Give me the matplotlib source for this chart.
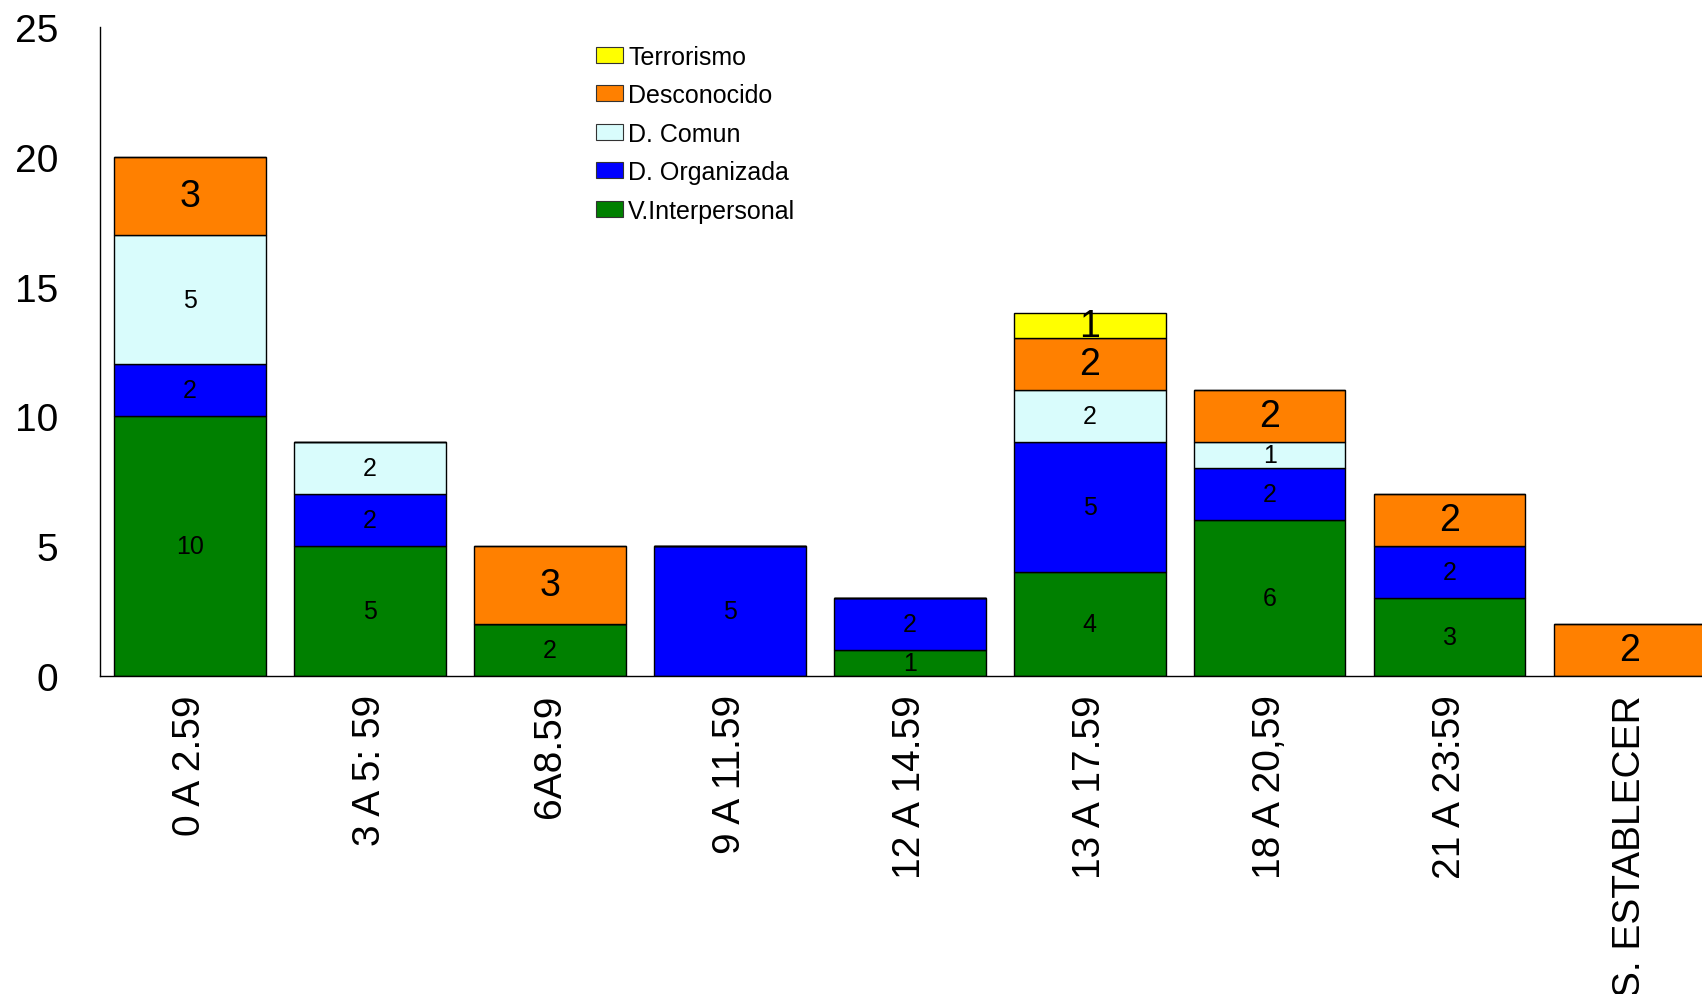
import numpy as np
import matplotlib.pyplot as plt

plt.rcParams['font.family'] = ['Liberation Sans', 'DejaVu Sans']

franjas = ["0 A 2.59", "3 A 5: 59", "6A8.59", "9 A 11.59", "12 A 14.59",
           "13 A 17.59", "18 A 20,59", "21 A 23:59", "S. ESTABLECER"]

v_interpersonal = [10, 5, 2, 0, 1, 4, 6, 3, 0]
d_organizada = [2, 2, 0, 5, 2, 5, 2, 2, 0]
d_comun = [5, 2, 0, 0, 0, 2, 1, 0, 0]
desconocido = [3, 0, 3, 0, 0, 2, 2, 2, 2]
terrorismo = [0, 0, 0, 0, 0, 1, 0, 0, 0]

series = [
    ("V.Interpersonal", v_interpersonal, "#008000", 18),
    ("D. Organizada", d_organizada, "#0000FF", 18),
    ("D. Comun", d_comun, "#D9FCFC", 18),
    ("Desconocido", desconocido, "#FF8000", 27),
    ("Terrorismo", terrorismo, "#FFFF00", 27),
]

fig = plt.figure(figsize=(17.02, 9.95), dpi=100)
ax = fig.add_axes([0.0587, 0.3196, 0.9516, 0.6523])

x = np.arange(len(franjas))
bottom = np.zeros(len(franjas))
for name, vals, col, fs in series:
    vals = np.array(vals, dtype=float)
    bars = ax.bar(x, vals, width=0.843, bottom=bottom, color=col,
                  edgecolor="black", linewidth=1, label=name)
    for b, v, b0 in zip(bars, vals, bottom):
        if v > 0:
            ax.text(b.get_x() + b.get_width() / 2, b0 + v / 2, f"{int(v)}",
                    ha="center", va="center", fontsize=fs, color="black")
    bottom += vals

ax.set_xlim(-0.5, len(franjas) - 0.5)
ax.set_ylim(0, 25)
ax.set_yticks([0, 5, 10, 15, 20, 25])
ax.set_xticks(x)
ax.set_xticklabels(franjas, rotation=90, fontsize=28, ha="center", va="top")
ax.tick_params(axis="x", length=0, pad=13)
ax.tick_params(axis="y", length=0, pad=30, labelsize=28)
ax.spines["top"].set_visible(False)
ax.spines["right"].set_visible(False)
ax.spines["left"].set_linewidth(1)
ax.spines["bottom"].set_linewidth(1)

h, l = ax.get_legend_handles_labels()
leg = ax.legend(h[::-1], l[::-1], loc="upper left", bbox_to_anchor=(0.3, 0.988),
                frameon=False, fontsize=18, handlelength=1.1, handleheight=0.6,
                handletextpad=0.2, labelspacing=0.58, borderaxespad=0.0,
                borderpad=0.4)
for p in leg.get_patches():
    p.set_edgecolor("#333333")
    p.set_linewidth(0.8)

fig.savefig("out.png", dpi=100)
